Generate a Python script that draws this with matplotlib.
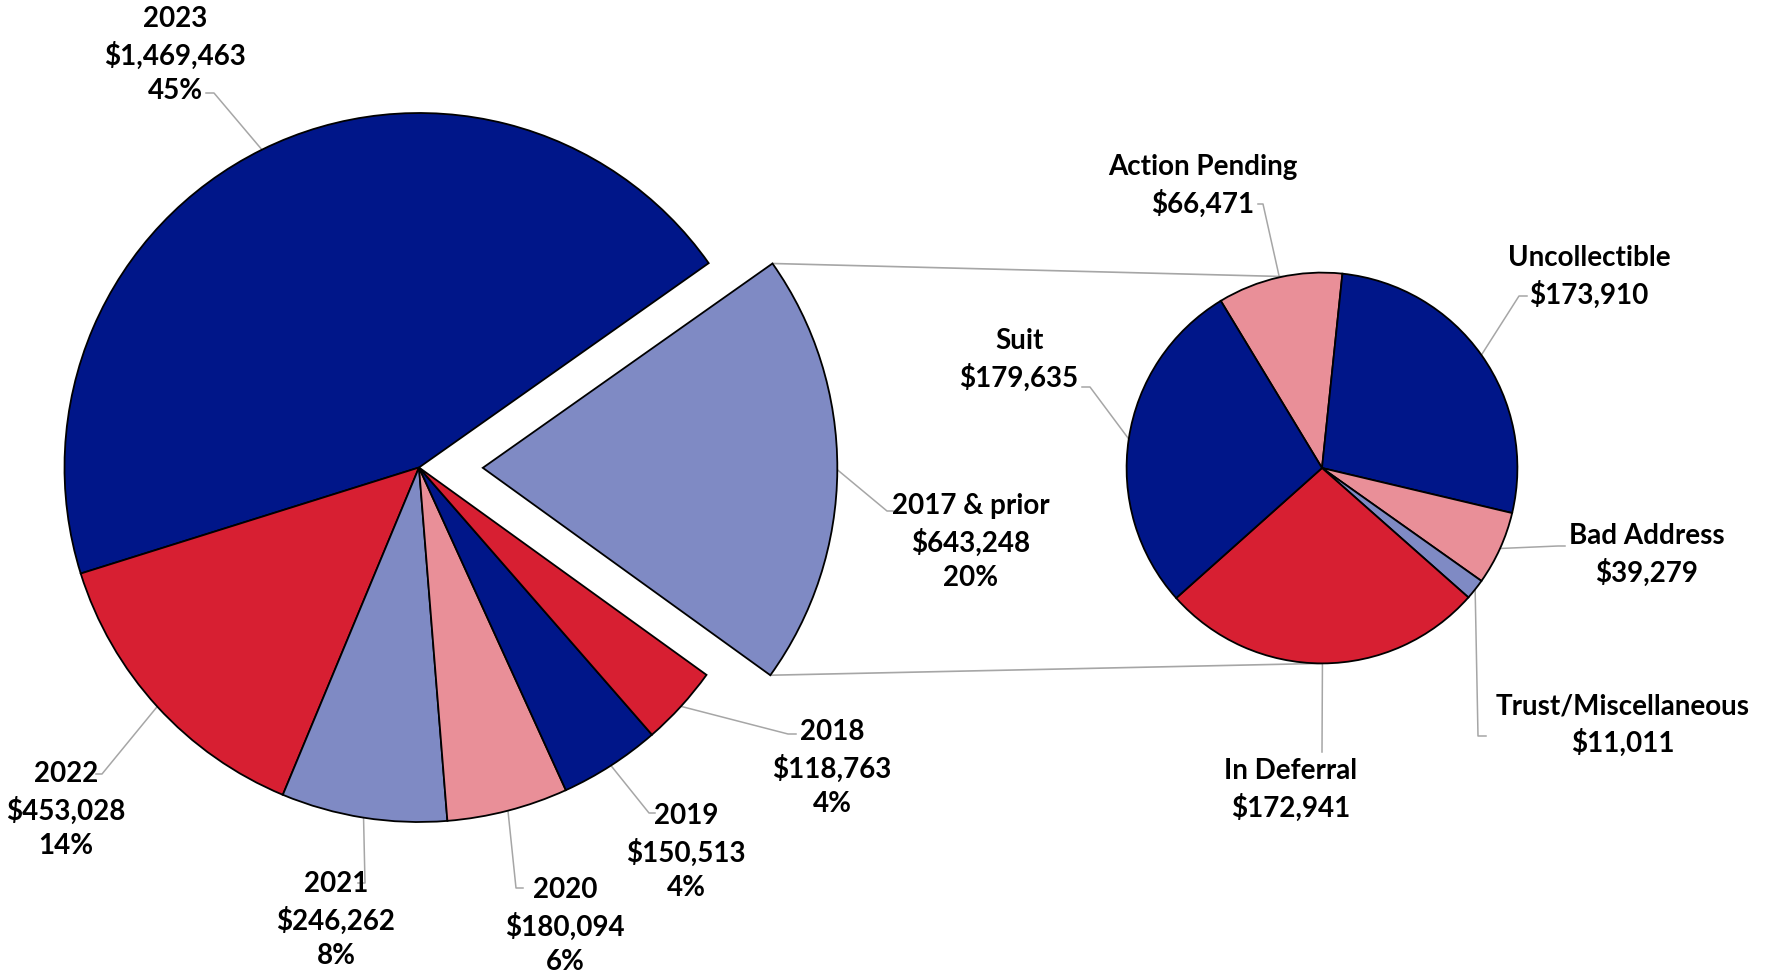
import numpy as np
import matplotlib.pyplot as plt

# ---- data ----
years = ["2023", "2022", "2021", "2020", "2019", "2018", "2017 & prior"]
year_amounts = [1469463, 453028, 246262, 180094, 150513, 118763, 643248]
year_pcts = [45, 14, 8, 6, 4, 4, 20]

status = ["Action Pending", "Uncollectible", "Bad Address",
          "Trust/Miscellaneous", "In Deferral", "Suit"]
status_amounts = [66471, 173910, 39279, 11011, 172941, 179635]

# colors
NAVY = "#001689"
RED = "#D71F32"
LAV = "#7F8AC4"
PINK = "#E98F98"
year_colors = [NAVY, RED, LAV, PINK, NAVY, RED, LAV]
status_colors = [PINK, NAVY, PINK, LAV, RED, NAVY]

LEAD = "#A6A6A6"
FONT = dict(family=["Lato", "DejaVu Sans"], fontweight="bold", fontsize=20,
            color="black")

# image-pixel layout helper (left pie centre = origin, its radius = 1)
W, H = 1771, 975
CX, CY, S = 419, 467.5, 354.5


def px(x, y):
    return ((x - CX) / S, (CY - y) / S)


fig = plt.figure(figsize=(W / 100, H / 100), dpi=100)
ax = fig.add_axes([0, 0, 1, 1])

wedge_kw = dict(edgecolor="black", linewidth=1.3)
left, _ = ax.pie(year_amounts, colors=year_colors, startangle=35.2,
                 counterclock=True, radius=1.0, center=(0, 0),
                 explode=[0, 0, 0, 0, 0, 0, 0.18], wedgeprops=wedge_kw)
rc = px(1322, 468)
rr = 195.4 / S
right, _ = ax.pie(status_amounts, colors=status_colors, startangle=121.2,
                  counterclock=False, radius=rr, center=rc,
                  wedgeprops=wedge_kw)


def arc_point(w, ang=None):
    if ang is None:
        ang = (w.theta1 + w.theta2) / 2
    a = np.deg2rad(ang)
    return (w.center[0] + w.r * np.cos(a), w.center[1] + w.r * np.sin(a))


# connector lines between the exploded slice and the second pie
ex = left[-1]
top_l = arc_point(ex, ex.theta2)
bot_l = arc_point(ex, ex.theta1)
a1, a2 = np.deg2rad(101.5), np.deg2rad(270)
top_r = (rc[0] + rr * np.cos(a1), rc[1] + rr * np.sin(a1))
bot_r = (rc[0] + rr * np.cos(a2), rc[1] + rr * np.sin(a2))
for p, q in [(top_l, top_r), (bot_l, bot_r)]:
    ax.plot([p[0], q[0]], [p[1], q[1]], color=LEAD, lw=1.2, zorder=0)

# label positions (text centre) and leader points, in image pixels
left_layout = [
    ((175, 55), [(206, 93), (214, 93)]),
    ((66, 810), [(96, 774), (102, 774)]),
    ((336, 920), [(358, 883), (365, 883)]),
    ((565, 926), [(523, 888), (516, 888)]),
    ((686, 852), [(655, 813), (649, 813)]),
    ((832, 768), [(796, 734), (788, 734)]),
    ((971, 542), [(893, 511), (887, 511)]),
]
right_layout = [
    ((1203, 186), [(1258, 204), (1263, 204)]),
    ((1589, 277), [(1527, 296), (1519, 296)]),
    ((1647, 555), [(1565, 546), (1558, 546)]),
    ((1623, 725), [(1486, 736), (1478, 736)]),
    ((1291, 790), [(1322, 752)]),
    ((1019, 360), [(1082, 387), (1090, 387)]),
]


def leader(w, pts):
    xy = [px(*p) for p in pts] + [arc_point(w)]
    xs, ys = zip(*xy)
    ax.plot(xs, ys, color=LEAD, lw=1.1, zorder=0)


for w, name, amt, pct, (tpos, pts) in zip(left, years, year_amounts,
                                          year_pcts, left_layout):
    ax.text(*px(*tpos), f"{name}\n${amt:,}\n{pct}%", ha="center",
            va="center", linespacing=1.42, **FONT)
    leader(w, pts)

for w, name, amt, (tpos, pts) in zip(right, status, status_amounts,
                                     right_layout):
    ax.text(*px(*tpos), f"{name}\n${amt:,}", ha="center", va="center",
            linespacing=1.42, **FONT)
    leader(w, pts)

x0, _ = px(0, 0)
x1, _ = px(W, 0)
_, y0 = px(0, H)
_, y1 = px(0, 0)
ax.set_xlim(x0, x1)
ax.set_ylim(y0, y1)
ax.set_aspect("equal")
ax.axis("off")

fig.savefig("out.png", dpi=100, facecolor="white")
